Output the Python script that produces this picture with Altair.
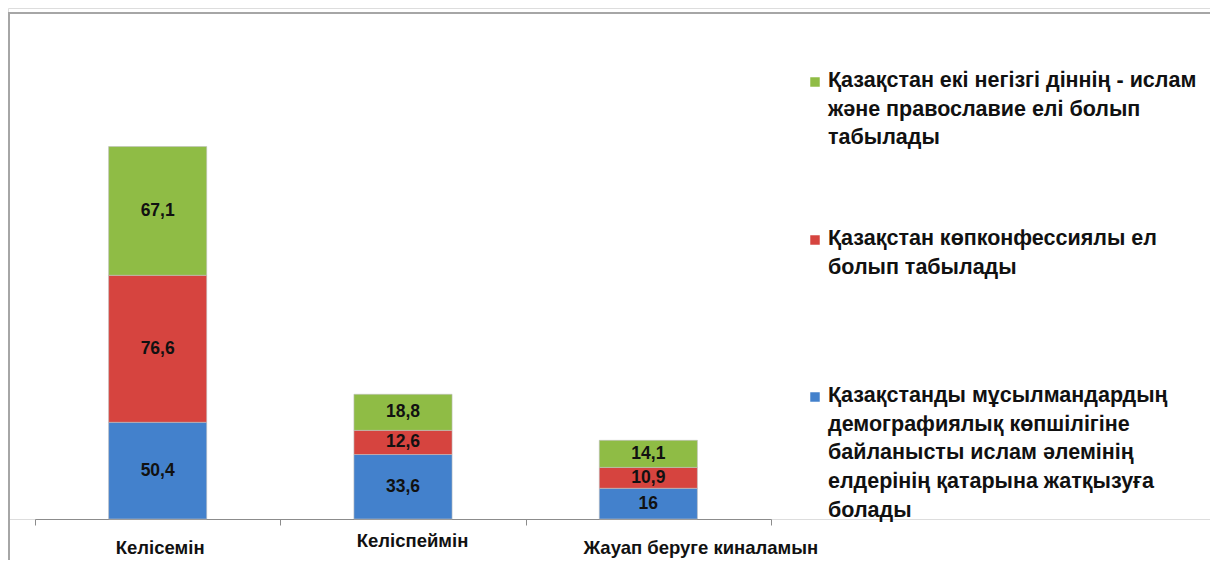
import altair as alt
import pandas as pd

categories = ["Келісемін", "Келіспеймін", "Жауап беруге киналамын"]
series = [
    "Қазақстанды мұсылмандардың демографиялық көпшілігіне байланысты ислам әлемінің елдерінің қатарына жатқызуға болады",
    "Қазақстан көпконфессиялы ел болып табылады",
    "Қазақстан екі негізгі діннің - ислам және православие елі болып табылады",
]
series_short = ["s1", "s2", "s3"]
values_s1 = [50.4, 33.6, 16]
values_s2 = [76.6, 12.6, 10.9]
values_s3 = [67.1, 18.8, 14.1]
colors = ["#4381cc", "#d6443f", "#8fbc45"]

legend_lines = [
    "Қазақстанды  мұсылмандардың\nдемографиялық көпшілігіне\nбайланысты ислам әлемінің\nелдерінің  қатарына жатқызуға\nболады",
    "Қазақстан  көпконфессиялы  ел\nболып табылады",
    "Қазақстан  екі негізгі  діннің  - ислам\nжәне  православие елі болып\nтабылады",
]

rows = []
for i, c in enumerate(categories):
    for k, (s, vals) in enumerate(zip(series_short, [values_s1, values_s2, values_s3])):
        rows.append({"cat": c, "series": s, "order": k, "value": vals[i]})
df = pd.DataFrame(rows)

FONT = "Liberation Sans Narrow, Arial Narrow, Liberation Sans, Arial, sans-serif"
W, H = 1202, 511

xscale = alt.Scale(domain=categories, range=[27, 763], paddingInner=0, paddingOuter=0)
yscale = alt.Scale(domain=[0, 266.3], nice=False, zero=True)
cscale = alt.Scale(domain=series_short, range=colors)

base = alt.Chart(df)

bars = base.mark_bar(width={"band": 0.4}, stroke="#bfbfbf", strokeWidth=0.6).encode(
    x=alt.X("cat:N", scale=xscale, sort=categories, title=None,
            axis=alt.Axis(domainColor="#8c8c8c", tickColor="#8c8c8c", tickSize=6,
                          tickBand="extent", labelAngle=0, labelFont=FONT, labelLimit=0,
                          labelFontSize=18.5, labelFontWeight="bold", labelColor="#111",
                          labelPadding={"condition": {"test": "datum.value === 'Келіспеймін'", "value": 15}, "value": 22},
                          labelOffset={"condition": [
                              {"test": "datum.value === 'Жауап беруге киналамын'", "value": 52},
                              {"test": "datum.value === 'Келіспеймін'", "value": 9}], "value": 2},
                          labelBaseline="middle", grid=False)),
    y=alt.Y("value:Q", stack="zero", scale=yscale, axis=None),
    color=alt.Color("series:N", scale=cscale, legend=None),
    order=alt.Order("order:Q", sort="ascending"),
)

labels = base.transform_stack(
    stack="value", groupby=["cat"], as_=["v0", "v1"], sort=[alt.SortField("order", "ascending")]
).transform_calculate(
    mid="(datum.v0 + datum.v1) / 2",
    lab="replace(toString(datum.value), '.', ',')",
).mark_text(font=FONT, fontSize=17.5, fontWeight="bold", color="#111", baseline="middle").encode(
    x=alt.X("cat:N", scale=xscale, sort=categories),
    y=alt.Y("mid:Q", scale=yscale),
    text="lab:N",
)

one = alt.Chart(pd.DataFrame({"a": [0]}))
frame_top = one.mark_rule(color="#a6a6a6", strokeWidth=2).encode(
    x=alt.value(0), x2=alt.value(W + 10), y=alt.value(5))
frame_left = one.mark_rule(color="#a6a6a6", strokeWidth=2).encode(
    x=alt.value(1), y=alt.value(5), y2=alt.value(H + 60))

legend_layers = []
leg_y = [389, 232, 74]
for k in range(3):
    sq = one.mark_square(size=90, color=colors[k], opacity=1).encode(
        x=alt.value(807), y=alt.value(leg_y[k]))
    tx = one.mark_text(text=legend_lines[k], lineBreak="\n", lineHeight=28.7, font=FONT,
                       fontSize=21.5, fontWeight="bold", color="#111", align="left",
                       baseline="top").encode(x=alt.value(820), y=alt.value(leg_y[k] - 12))
    legend_layers += [sq, tx]

chart = alt.layer(frame_top, frame_left, bars, labels, *legend_layers).properties(
    width=W, height=H, padding={"left": 0, "top": 0, "right": 0, "bottom": 41},
    autosize=alt.AutoSizeParams(type="none"),
).configure_view(stroke=None).configure(background="white")

chart.save("out.html", embed_options={"renderer": "svg", "actions": False})
